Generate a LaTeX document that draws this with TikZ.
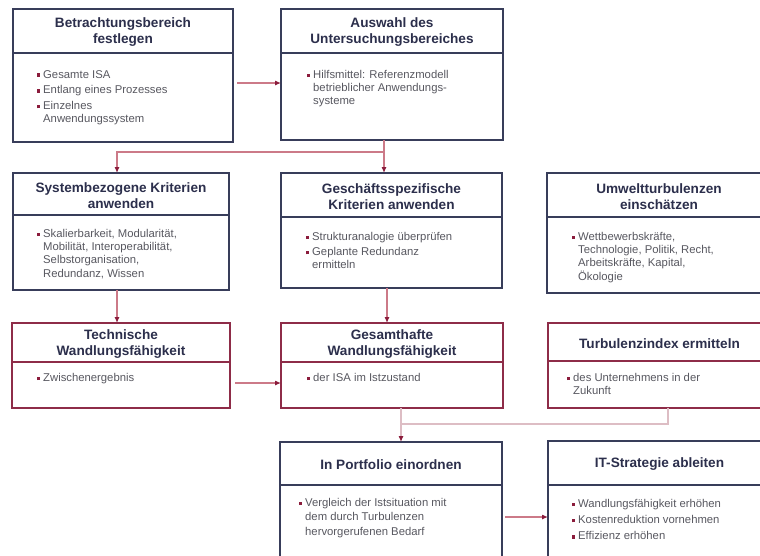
\documentclass[tikz,border=0pt]{standalone}
\usepackage{fontspec}
\setmainfont{Liberation Sans}
\usetikzlibrary{arrows.meta,calc}
\definecolor{navy}{HTML}{383D5A}
\definecolor{maroon}{HTML}{8E2C48}
\definecolor{titlecol}{HTML}{2C2F4C}
\definecolor{bodycol}{HTML}{585860}
\definecolor{bulred}{HTML}{8B1C3C}
\definecolor{conncol}{HTML}{CC7A88}
\definecolor{connlt}{HTML}{DDBDC4}
\newcommand\bul{\makebox[0pt][r]{\textcolor{bulred}{\rule[1.3pt]{3.5pt}{3.5pt}}\hspace{3pt}}}
\newcommand\mybox[8]{%
  \node[boxshape, draw=#2, anchor=north west, minimum width={#5-#3}, minimum height={#6-#4}] (#1) at (#3,#4) {};
  \draw[#2, line width=1.5pt] (#3,#7) -- (#5,#7);
  \node[titletext] (#1t) at ({(#3+#5)/2},{(#4+#7)/2+1.5}) {#8};
}
\tikzset{
  boxshape/.style={rectangle, line width=1.5pt, inner sep=0pt, outer sep=0pt, fill=white},
  titletext/.style={font=\fontsize{13.6}{16}\selectfont\bfseries, align=center, text=titlecol, inner sep=0pt},
  bodytext/.style={font=\fontsize{11.3}{13.3}\selectfont, align=left, text=bodycol, inner sep=0pt, anchor=north west},
  conn/.style={draw=conncol, line width=1.1pt},
  connlight/.style={draw=connlt, line width=1.1pt},
  arr/.style={-{Latex[length=6pt,width=5pt,color=bulred]}},
}
\begin{document}
\begin{tikzpicture}[x=1pt,y=-1pt]
\useasboundingbox (0,0) rectangle (760,555);
\fill[white] (0,0) rectangle (760,555);
\clip (0,0) rectangle (760,555);

% boxes
\mybox{b1}{navy}{13}{9}{233}{142}{53}{Betrachtungsbereich\\festlegen}
\mybox{b2}{navy}{281}{9}{503}{140}{53}{Auswahl des\\Untersuchungsbereiches}
\mybox{b3}{navy}{13}{173}{229}{290}{215}{Systembezogene Kriterien\\anwenden}
\mybox{b4}{navy}{281}{173}{502}{288}{217}{Geschäftsspezifische\\Kriterien anwenden}
\mybox{b5}{navy}{547}{173}{771}{293}{217}{Umweltturbulenzen\\einschätzen}
\mybox{b6}{maroon}{12}{323}{230}{408}{362}{Technische\\Wandlungsfähigkeit}
\mybox{b7}{maroon}{281}{323}{503}{408}{362}{Gesamthafte\\Wandlungsfähigkeit}
\mybox{b8}{maroon}{548}{323}{771}{408}{361}{Turbulenzindex ermitteln}
\mybox{b9}{navy}{280}{442}{502}{570}{485}{In Portfolio einordnen}
\mybox{b10}{navy}{548}{441}{771}{570}{485}{IT-Strategie ableiten}

% body texts
\node[bodytext] (b1x) at (43,70) {\bul Gesamte ISA\\[2.5pt]\bul Entlang eines Prozesses\\[2.5pt]\bul Einzelnes\\Anwendungssystem};
\node[bodytext] (b2x) at (313,70) {\bul Hilfsmittel: Referenzmodell\\betrieblicher Anwendungs-\\systeme};
\node[bodytext] (b3x) at (43,229) {\bul Skalierbarkeit, Modularität,\\Mobilität, Interoperabilität,\\Selbstorganisation,\\Redundanz, Wissen};
\node[bodytext] (b4x) at (312,232) {\bul Strukturanalogie überprüfen\\[2pt]\bul Geplante Redundanz\\ermitteln};
\node[bodytext] (b5x) at (578,232) {\bul Wettbewerbskräfte,\\Technologie, Politik, Recht,\\Arbeitskräfte, Kapital,\\Ökologie};
\node[bodytext] (b6x) at (43,373) {\bul Zwischenergebnis};
\node[bodytext] (b7x) at (313,373) {\bul der ISA im Istzustand};
\node[bodytext] (b8x) at (573,373) {\bul des Unternehmens in der\\Zukunft};
\node[bodytext, font=\fontsize{11.3}{14.5}\selectfont] (b9x) at (305,498) {\bul Vergleich der Istsituation mit\\dem durch Turbulenzen\\hervorgerufenen Bedarf};
\node[bodytext] (b10x) at (578,499) {\bul Wandlungsfähigkeit erhöhen\\[3pt]\bul Kostenreduktion vornehmen\\[3pt]\bul Effizienz erhöhen};

% connectors
\coordinate (c1) at ([shift={(4,7.5)}]b1.east);
\draw[conn,arr] (c1) -- (c1 -| b2.west);

\coordinate (c2) at ([xshift=-8pt]b2.south);
\coordinate (c2m) at ([yshift=-12pt]c2);
\coordinate (c3t) at ([xshift=-4pt]b3.north);
\draw[conn] (c2) -- (c2m);
\draw[conn,arr] (c2m) -| (c3t);
\draw[conn,arr] (c2m) -- (c2m |- b4.north);

\coordinate (c3) at ([xshift=-4pt]b3.south);
\draw[conn,arr] (c3) -- (c3 |- b6.north);

\coordinate (c4) at ([xshift=-4.5pt]b4.south);
\draw[conn,arr] (c4) -- (c4 |- b7.north);

\coordinate (c5) at ([shift={(5,17.5)}]b6.east);
\draw[conn,arr] (c5) -- (c5 -| b7.west);

\coordinate (c7) at ([xshift=9pt]b7.south);
\draw[connlight,arr] (c7) -- (c7 |- b9.north);
\coordinate (c8) at ([xshift=8.5pt]b8.south);
\coordinate (c8m) at ([yshift=-16pt]c8);
\draw[connlight] (c8) -- (c8m) -- (c8m -| c7);

\coordinate (c9) at ([shift={(3,75)}]b9.north east);
\draw[conn,arr] (c9) -- (c9 -| b10.west);
\end{tikzpicture}
\end{document}
